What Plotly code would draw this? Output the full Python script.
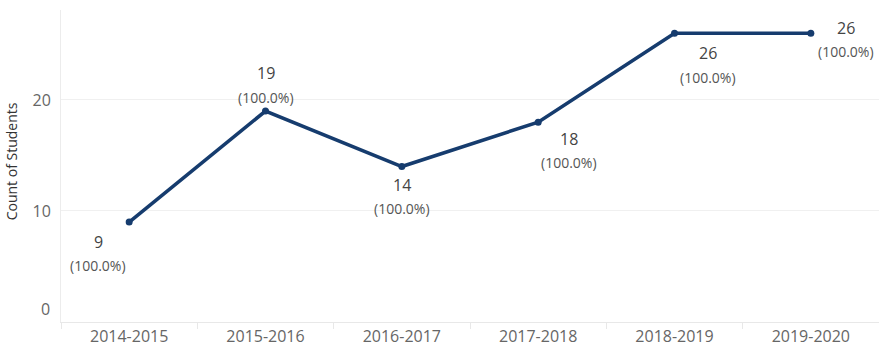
import plotly.graph_objects as go

years = ["2014-2015", "2015-2016", "2016-2017", "2017-2018", "2018-2019", "2019-2020"]
counts = [9, 19, 14, 18, 26, 26]
pct_labels = ["(100.0%)"] * 6
# label offsets in pixels (dx, dy for value line, dy for percent line); positive dy = up
label_dx = [-31, 0, 0, 31, 33, 35]
value_dy = [-20, 38, -18, -17, -20, 5]
pct_dy = [-43, 14, -42, -40, -44, -18]

LINE = "#163c6e"
FONT = "Open Sans"

fig = go.Figure()
fig.add_trace(go.Scatter(
    x=years, y=counts, mode="lines+markers",
    line=dict(color=LINE, width=3.6),
    marker=dict(color=LINE, size=7),
    hoverinfo="skip", showlegend=False,
))

annotations = []
for xv, yv, pl, dx, vdy, pdy in zip(years, counts, pct_labels, label_dx, value_dy, pct_dy):
    annotations.append(dict(x=xv, y=yv, xref="x", yref="y", text=str(yv), showarrow=False,
                            xshift=dx, yshift=vdy, xanchor="center", yanchor="middle",
                            font=dict(family=FONT, size=16, color="#444444")))
    annotations.append(dict(x=xv, y=yv, xref="x", yref="y", text=pl, showarrow=False,
                            xshift=dx, yshift=pdy, xanchor="center", yanchor="middle",
                            font=dict(family=FONT, size=14, color="#555555")))

# zero tick label (raised slightly as in reference)
annotations.append(dict(x=0, y=0, xref="paper", yref="y", text="0", showarrow=False,
                        xanchor="right", yanchor="middle", xshift=-9, yshift=13,
                        font=dict(family=FONT, size=16, color="#666666")))
# axis title
annotations.append(dict(x=0, y=0.515, xref="paper", yref="paper", text="Count of Students",
                        showarrow=False, textangle=-90, xanchor="center", yanchor="middle",
                        xshift=-50, font=dict(family=FONT, size=14, color="#333333")))

fig.update_layout(
    width=879, height=349,
    margin=dict(l=61, r=0, t=10, b=27),
    paper_bgcolor="white", plot_bgcolor="white",
    annotations=annotations,
    xaxis=dict(
        type="category", range=[-0.5, 5.5], showgrid=False,
        tickson="boundaries", ticks="outside", ticklen=6, tickcolor="#e8e8e8",
        showline=True, linecolor="#e8e8e8", linewidth=1,
        tickfont=dict(family=FONT, size=16, color="#666666"),
        zeroline=False, fixedrange=True,
    ),
    yaxis=dict(
        range=[0, 28.1], tickvals=[10, 20], ticktext=["10", "20"],
        showgrid=True, gridcolor="#f0f0f0", gridwidth=1,
        showline=True, linecolor="#ececec", linewidth=1,
        ticks="", ticklabelstandoff=6,
        tickfont=dict(family=FONT, size=16, color="#666666"),
        zeroline=False, fixedrange=True,
    ),
)

fig.write_html("out.html")
